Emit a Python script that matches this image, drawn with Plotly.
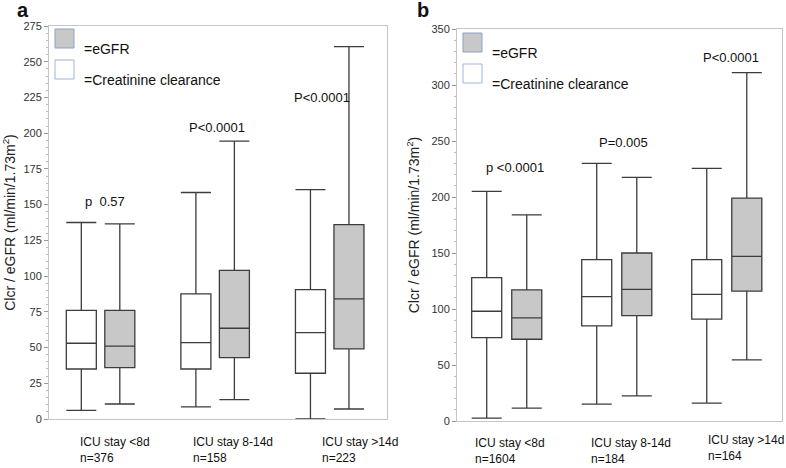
import plotly.graph_objects as go
from plotly.subplots import make_subplots

W, H = 786, 468

groups = ["ICU stay <8d", "ICU stay 8-14d", "ICU stay >14d"]
n_a = ["n=376", "n=158", "n=223"]
n_b = ["n=1604", "n=184", "n=164"]

# panel a: box stats (lower whisker, Q1, median, Q3, upper whisker)
a_clcr_lo = [6, 8.5, 0]
a_clcr_q1 = [35, 35, 32]
a_clcr_med = [53, 53.5, 60.5]
a_clcr_q3 = [76, 87.5, 90.5]
a_clcr_hi = [137.5, 158.5, 160.5]

a_egfr_lo = [10.5, 13.5, 7]
a_egfr_q1 = [36, 43, 49]
a_egfr_med = [51, 63.5, 84]
a_egfr_q3 = [76, 104, 136]
a_egfr_hi = [136.5, 194.5, 260.5]

a_pvals = ["p  0.57", "P<0.0001", "P<0.0001"]
a_py = [152, 204, 225]

# panel b
b_clcr_lo = [2.5, 15, 16]
b_clcr_q1 = [74.5, 85, 91]
b_clcr_med = [98, 111, 113]
b_clcr_q3 = [128, 144, 144]
b_clcr_hi = [205, 230, 225.5]

b_egfr_lo = [11.5, 22.5, 54.5]
b_egfr_q1 = [73, 94, 116]
b_egfr_med = [92, 117.5, 147]
b_egfr_q3 = [117, 150, 199]
b_egfr_hi = [184, 217.5, 311]

b_pvals = ["p <0.0001", "P=0.005", "P<0.0001"]
b_py = [226, 249, 325]

FONT = "Liberation Sans"
LINE = "#3c3c3c"
GREY = "#c8c8c8"


def px_x(p):
    return p / W


def px_y(p):
    return 1 - p / H


pos = list(range(len(groups)))

fig = make_subplots(rows=1, cols=2)

# (col, half-distance between paired boxes, box width) in x units
panels = [
    (1, 0.168, 0.262, (a_clcr_lo, a_clcr_q1, a_clcr_med, a_clcr_q3, a_clcr_hi),
     (a_egfr_lo, a_egfr_q1, a_egfr_med, a_egfr_q3, a_egfr_hi)),
    (2, 0.182, 0.273, (b_clcr_lo, b_clcr_q1, b_clcr_med, b_clcr_q3, b_clcr_hi),
     (b_egfr_lo, b_egfr_q1, b_egfr_med, b_egfr_q3, b_egfr_hi)),
]
for col, d, w, clcr, egfr in panels:
    for stats, off, fill, name in [(clcr, -d, "white", "Creatinine clearance"),
                                   (egfr, d, GREY, "eGFR")]:
        lo, q1, med, q3, hi = stats
        fig.add_trace(go.Box(x=[p + off for p in pos], lowerfence=lo, q1=q1,
                             median=med, q3=q3, upperfence=hi, name=name,
                             width=w, fillcolor=fill,
                             line=dict(color=LINE, width=1.3), whiskerwidth=1,
                             showlegend=False, hoverinfo="skip"), row=1, col=col)

# axes domains (from pixel layout)
fig.update_layout(
    xaxis=dict(domain=[px_x(49), px_x(387)], range=[-0.45, 2.5]),
    xaxis2=dict(domain=[px_x(457), px_x(782)], range=[-0.452, 2.502]),
    yaxis=dict(domain=[px_y(419), px_y(26)], range=[0, 275], dtick=25),
    yaxis2=dict(domain=[px_y(421), px_y(29)], range=[0, 350], dtick=50),
)

fig.update_xaxes(showticklabels=False, showgrid=False, zeroline=False,
                 showline=True, linecolor="#c4c4c4", linewidth=1, mirror=True,
                 ticks="", automargin=False)
fig.update_yaxes(showgrid=False, zeroline=False, showline=True,
                 linecolor="#c4c4c4", linewidth=1, mirror=True,
                 ticks="outside", ticklen=4, tickcolor="#999", automargin=False,
                 minor=dict(ticks="outside", ticklen=2, tickcolor="#bbb"),
                 tickfont=dict(family=FONT, size=11, color="#333"),
                 title=dict(text="Clcr / eGFR (ml/min/1.73m<sup>2</sup>)",
                            font=dict(family=FONT, size=14, color="#222"),
                            standoff=8))

ann = []
shapes = []

# panel letters
ann.append(dict(x=px_x(15), y=1, yanchor="top", yshift=3, xref="paper", yref="paper",
                text="<b>a</b>", showarrow=False,
                font=dict(family=FONT, size=20, color="#111")))
ann.append(dict(x=px_x(423), y=1, yanchor="top", yshift=3, xref="paper", yref="paper",
                text="<b>b</b>", showarrow=False,
                font=dict(family=FONT, size=20, color="#111")))

# in-plot legends
for x0, ys in [(55, (29, 60)), (463, (33, 64))]:
    shapes.append(dict(type="rect", xref="paper", yref="paper",
                       x0=px_x(x0), x1=px_x(x0 + 19), y0=px_y(ys[0]), y1=px_y(ys[0] + 19),
                       fillcolor=GREY, line=dict(color="#8aa4c6", width=1)))
    shapes.append(dict(type="rect", xref="paper", yref="paper",
                       x0=px_x(x0), x1=px_x(x0 + 19), y0=px_y(ys[1]), y1=px_y(ys[1] + 19),
                       fillcolor="white", line=dict(color="#9fb7d6", width=1)))
    ann.append(dict(x=px_x(x0 + 27), y=px_y(ys[0] + 10), xref="paper", yref="paper",
                    text="=eGFR", showarrow=False, xanchor="left",
                    font=dict(family=FONT, size=14, color="#111")))
    ann.append(dict(x=px_x(x0 + 27), y=px_y(ys[1] + 10), xref="paper", yref="paper",
                    text="=Creatinine clearance", showarrow=False, xanchor="left",
                    font=dict(family=FONT, size=14, color="#111")))

# p-values
a_pshift = [4, 2, -8]
b_pshift = [8, 7, 4]
for i in pos:
    ann.append(dict(x=i, y=a_py[i], xref="x", yref="y", text=a_pvals[i], xshift=a_pshift[i],
                    showarrow=False, font=dict(family=FONT, size=13, color="#111")))
    ann.append(dict(x=i, y=b_py[i], xref="x2", yref="y2", text=b_pvals[i], xshift=b_pshift[i],
                    showarrow=False, font=dict(family=FONT, size=13, color="#111")))

# group labels under the axes
a_lshift = [-23, -24, -10]
b_lshift = [-34, -28, -21]
b_lyshift = [0, 0, 3]
for i in pos:
    ann.append(dict(x=i, y=px_y(433), xref="x", yref="paper", yanchor="top",
                    xanchor="left", align="left", xshift=a_lshift[i],
                    text=groups[i] + "<br>" + n_a[i], showarrow=False,
                    font=dict(family=FONT, size=12, color="#111")))
    ann.append(dict(x=i, y=px_y(434), xref="x2", yref="paper", yanchor="top",
                    xanchor="left", align="left", xshift=b_lshift[i], yshift=b_lyshift[i],
                    text=groups[i] + "<br>" + n_b[i], showarrow=False,
                    font=dict(family=FONT, size=12, color="#111")))

fig.update_layout(
    width=W, height=H,
    margin=dict(l=0, r=0, t=0, b=0),
    paper_bgcolor="white", plot_bgcolor="white",
    boxmode="overlay",
    showlegend=False,
    annotations=ann, shapes=shapes,
)

# drop the default page margin so the figure sits at the window corner
fig.write_html("out.html", config={"displayModeBar": False},
               post_script="document.body.style.margin='0px';")
